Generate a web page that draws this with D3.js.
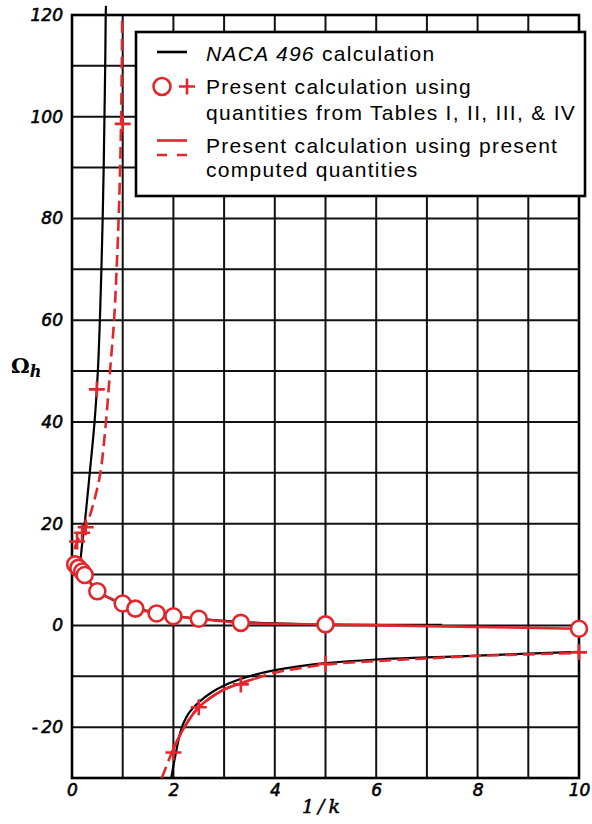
<!DOCTYPE html>
<html>
<head>
<meta charset="utf-8">
<script src="https://cdn.jsdelivr.net/npm/d3@7/dist/d3.min.js"></script>
<style>
  html, body { margin: 0; padding: 0; background: #fff; }
  svg { display: block; }
</style>
</head>
<body>
<svg id="chart" width="592" height="824"></svg>
<script>
// ---------------- DATA ----------------
const xTicks = [0, 2, 4, 6, 8, 10];
const yTicks = [-20, 0, 20, 40, 60, 80, 100, 120];
const xGrid = [0, 1, 2, 3, 4, 5, 6, 7, 8, 9, 10];
const yGrid = [-30, -20, -10, 0, 10, 20, 30, 40, 50, 60, 70, 80, 90, 100, 110, 120];

// NACA 496 calculation (black solid)
const nacaUpper = [[0.16,12],[0.2,16],[0.25,20],[0.35,30],[0.445,40],[0.51,50],[0.55,60],[0.58,70],[0.605,80],[0.625,90],[0.64,100],[0.655,110],[0.665,120],[0.67,121.8]];
const nacaMiddle = [[0.2,10.8],[0.35,8.6],[0.5,6.8],[0.75,5.3],[1,4.3],[1.5,2.8],[2,1.9],[2.5,1.3],[3.3,0.7],[4,0.4],[5,0.15],[6,0.1],[7.3,0.1]];
const nacaLower = [[1.96,-30],[2.0,-27.6],[2.05,-25],[2.1,-22.6],[2.15,-20.6],[2.2,-19.2],[2.3,-17.3],[2.4,-16.1],[2.5,-15.1],[2.75,-13.2],[3.0,-11.8],[3.5,-10.0],[4,-8.8],[4.5,-8.0],[5,-7.4],[6,-6.7],[7,-6.3],[8,-5.95],[9,-5.55],[10,-5.2]];

// Present calculation using present computed quantities (red dashed)
const presentUpper = [[0.05,15],[0.1,16.5],[0.2,18],[0.27,19.3],[0.35,21.5],[0.45,25],[0.56,30],[0.67,40],[0.75,50],[0.83,60],[0.88,70],[0.93,83],[0.97,100],[0.99,120]];
const presentLower = [[1.77,-30],[1.85,-28],[1.97,-25],[2.2,-20.3],[2.5,-16.1],[3,-12.6],[3.33,-11.4],[4,-9.3],[4.5,-8.4],[5,-7.7],[6,-7.0],[7,-6.5],[8,-6.0],[9,-5.7],[10,-5.4]];
const presentLowerSolid = [[1.97,-25],[2.2,-20.3],[2.5,-16.1],[3,-12.6],[3.33,-11.4],[3.6,-10.5]];

// Present calculation using quantities from Tables I-IV (markers)
const tableCircles = [[0.0625,12.0],[0.125,11.3],[0.2,10.6],[0.25,9.9],[0.5,6.7],[1,4.3],[1.25,3.3],[1.67,2.35],[2,1.8],[2.5,1.3],[3.33,0.5],[5,0.2],[10,-0.65]];
const tablePluses = [[0.1,16.5],[0.2,18.2],[0.27,19.3],[0.49,46.4],[1,98.6],[2,-25],[2.5,-16.1],[3.33,-11.6],[5,-7.6],[10,-5.3]];

const legendLines = [
  ["NACA 496", " calculation"],
  ["Present calculation using", "quantities from Tables I, II, III, & IV"],
  ["Present calculation using present", "computed quantities"]
];

// ---------------- DRAW ----------------
const RED = "#e3262b";
const svg = d3.select("#chart");
const x = d3.scaleLinear().domain([0, 10]).range([72, 579]);
const y = d3.scaleLinear().domain([-30, 120]).range([778, 15]);

// grid
const g = svg.append("g");
g.selectAll("line.v").data(xGrid).join("line")
  .attr("x1", d => x(d)).attr("x2", d => x(d))
  .attr("y1", y(-30)).attr("y2", y(120))
  .attr("stroke", "#111").attr("stroke-width", 2);
g.selectAll("line.h").data(yGrid).join("line")
  .attr("y1", d => y(d)).attr("y2", d => y(d))
  .attr("x1", x(0)).attr("x2", x(10))
  .attr("stroke", "#111").attr("stroke-width", 2);
// border
svg.append("rect")
  .attr("x", x(0)).attr("y", y(120))
  .attr("width", x(10) - x(0)).attr("height", y(-30) - y(120))
  .attr("fill", "none").attr("stroke", "#000").attr("stroke-width", 2.6);

// axes
const fontTick = "'DejaVu Sans', sans-serif";
const fmt = d => (d < 0 ? "-\u2009" + Math.abs(d) : String(d));
const yAxis = svg.append("g").attr("transform", `translate(${x(0)},0)`)
  .call(d3.axisLeft(y).tickValues(yTicks).tickSize(0).tickPadding(9).tickFormat(fmt));
const xAxis = svg.append("g").attr("transform", `translate(0,${y(-30)})`)
  .call(d3.axisBottom(x).tickValues(xTicks).tickSize(0).tickPadding(6).tickFormat(fmt));
[yAxis, xAxis].forEach(a => {
  a.select(".domain").remove();
  a.selectAll("text").attr("font-family", fontTick).attr("font-style", "oblique")
    .attr("font-size", 17).attr("fill", "#000")
    .attr("stroke", "#000").attr("stroke-width", 0.6);
});

// axis titles
svg.append("text").attr("x", 302).attr("y", 813)
  .attr("font-family", "'DejaVu Serif', serif").attr("font-style", "italic")
  .attr("font-size", 19).attr("letter-spacing", 4)
  .attr("stroke", "#000").attr("stroke-width", 0.5).text("1/k");
const yt = svg.append("text").attr("x", 11).attr("y", 373)
  .attr("font-family", "'DejaVu Serif', serif").attr("font-size", 21).attr("font-weight", "bold");
yt.append("tspan").text("Ω");
yt.append("tspan").attr("dy", 4).attr("font-size", 16).attr("font-style", "italic").attr("font-weight", "bold").text("h");

// curves
const line = d3.line().x(d => x(d[0])).y(d => y(d[1])).curve(d3.curveCatmullRom.alpha(0.5));
const curves = svg.append("g").attr("fill", "none");
[nacaUpper, nacaMiddle, nacaLower].forEach(c =>
  curves.append("path").attr("d", line(c)).attr("stroke", "#000").attr("stroke-width", 2.2));
[presentUpper, presentLower].forEach(c =>
  curves.append("path").attr("d", line(c)).attr("stroke", RED).attr("stroke-width", 2.6)
    .attr("stroke-dasharray", "12,6"));
[presentLowerSolid, tableCircles].forEach(c =>
  curves.append("path").attr("d", line(c)).attr("stroke", RED).attr("stroke-width", 2.6));

// markers
svg.append("g").selectAll("circle").data(tableCircles).join("circle")
  .attr("cx", d => x(d[0])).attr("cy", d => y(d[1])).attr("r", 8)
  .attr("fill", "#fff").attr("stroke", RED).attr("stroke-width", 2.6);
const plusPath = "M-8,0H8M0,-8V8";
svg.append("g").selectAll("path").data(tablePluses).join("path")
  .attr("transform", d => `translate(${x(d[0])},${y(d[1])})`)
  .attr("d", plusPath).attr("fill", "none").attr("stroke", RED).attr("stroke-width", 2.6);

// legend
const lg = svg.append("g");
lg.append("rect").attr("x", 136).attr("y", 32).attr("width", 449).attr("height", 164)
  .attr("fill", "#fff").attr("stroke", "#000").attr("stroke-width", 2.6);
lg.append("line").attr("x1", 157).attr("x2", 187).attr("y1", 52).attr("y2", 52)
  .attr("stroke", "#000").attr("stroke-width", 2.6);
lg.append("circle").attr("cx", 162).attr("cy", 86.5).attr("r", 8.5)
  .attr("fill", "#fff").attr("stroke", RED).attr("stroke-width", 2.6);
lg.append("path").attr("transform", "translate(187,86.5)").attr("d", plusPath)
  .attr("fill", "none").attr("stroke", RED).attr("stroke-width", 2.6);
lg.append("line").attr("x1", 157).attr("x2", 187).attr("y1", 140.5).attr("y2", 140.5)
  .attr("stroke", RED).attr("stroke-width", 2.6);
lg.append("line").attr("x1", 157).attr("x2", 187).attr("y1", 155).attr("y2", 155)
  .attr("stroke", RED).attr("stroke-width", 2.6).attr("stroke-dasharray", "10,10");

const lfont = "'Liberation Sans', Arial, sans-serif";
const tx = (yy) => lg.append("text").attr("x", 206).attr("y", yy)
  .attr("font-family", lfont).attr("font-size", 21).attr("letter-spacing", 1.3).attr("fill", "#000");
const t1 = tx(60.5);
t1.append("tspan").attr("font-style", "italic").text(legendLines[0][0]);
t1.append("tspan").text(legendLines[0][1]);
tx(94).text(legendLines[1][0]);
tx(120).text(legendLines[1][1]);
tx(153).text(legendLines[2][0]);
tx(177).text(legendLines[2][1]);
</script>
</body>
</html>
